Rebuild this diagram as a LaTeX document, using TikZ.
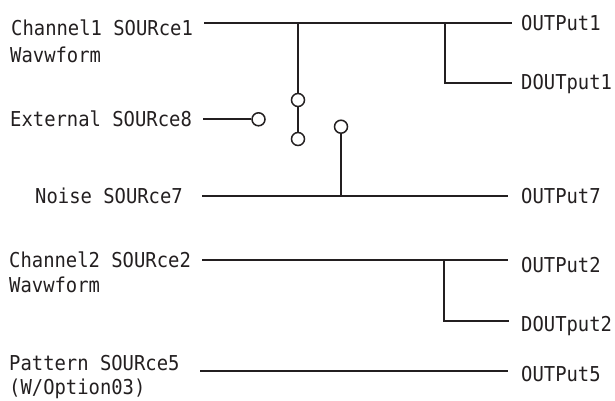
\documentclass[tikz,border=0pt]{standalone}
\usepackage{fontspec}
\setmonofont[FakeStretch=0.92]{DejaVu Sans Mono}
\definecolor{ink}{HTML}{231F20}
\begin{document}
\begin{tikzpicture}[x=1pt,y=-1pt,
  lbl/.style={inner sep=0pt, anchor=base west, text=ink, font=\fontsize{20.5}{24}\selectfont\ttfamily},
  wire/.style={line width=1.7pt, draw=ink},
  term/.style={circle, draw=ink, line width=1.5pt, fill=white, minimum size=13pt, inner sep=0pt}]
\useasboundingbox (0,0) rectangle (615,401);

% left labels
\node[lbl] (ch1)  at (11,35.5)  {Channel1 SOURce1};
\node[lbl] (ch1w) at (10,63)    {Wavwform};
\node[lbl] (ext)  at (10,126.5) {External SOURce8};
\node[lbl] (noi)  at (35,203.5) {Noise SOURce7};
\node[lbl] (ch2)  at (9,267.5)  {Channel2 SOURce2};
\node[lbl] (ch2w) at (9,292.5)  {Wavwform};
\node[lbl] (pat)  at (9,370)    {Pattern SOURce5};
\node[lbl] (patw) at (9,394.5)  {(W/Option03)};

% right labels
\node[lbl] (out1)  at (521,30.5)  {OUTPut1};
\node[lbl] (dout1) at (521,90)    {DOUTput1};
\node[lbl] (out7)  at (521,203.5) {OUTPut7};
\node[lbl] (out2)  at (521,272.5) {OUTPut2};
\node[lbl] (dout2) at (521,331.5) {DOUTput2};
\node[lbl] (out5)  at (521,381.5) {OUTPut5};

% wire end points
\coordinate (s1) at (204,22.7);
\coordinate (o1) at (511.7,22.7);
\coordinate (j1) at (445,22.7);
\coordinate (d1) at (511.7,83.3);
\coordinate (jA) at (298,22.7);
\coordinate (s8) at (203,119.3);
\coordinate (s7) at (202,196);
\coordinate (o7) at (508.3,196);
\coordinate (jC) at (341,196);
\coordinate (s2) at (202,260);
\coordinate (o2) at (508,260);
\coordinate (j2) at (444,260);
\coordinate (d2) at (509,321);
\coordinate (s5) at (200,371);
\coordinate (o5) at (508,371);

% wires
\draw[wire] (s1) -- (o1);
\draw[wire] (j1) |- (d1);
\draw[wire] (s7) -- (o7);
\draw[wire] (s2) -- (o2);
\draw[wire] (j2) |- (d2);
\draw[wire] (s5) -- (o5);

% switch terminals
\node[term] (tA) at (298,100) {};
\node[term] (tB) at (298,139) {};
\node[term] (tC) at (341,126.7) {};
\node[term] (tE) at (258.5,119.3) {};

\draw[wire] (jA) -- (tA.north);
\draw[wire] (tA.south) -- (tB.north);
\draw[wire] (s8) -- (tE.west);
\draw[wire] (tC.south) -- (jC);
\end{tikzpicture}
\end{document}
